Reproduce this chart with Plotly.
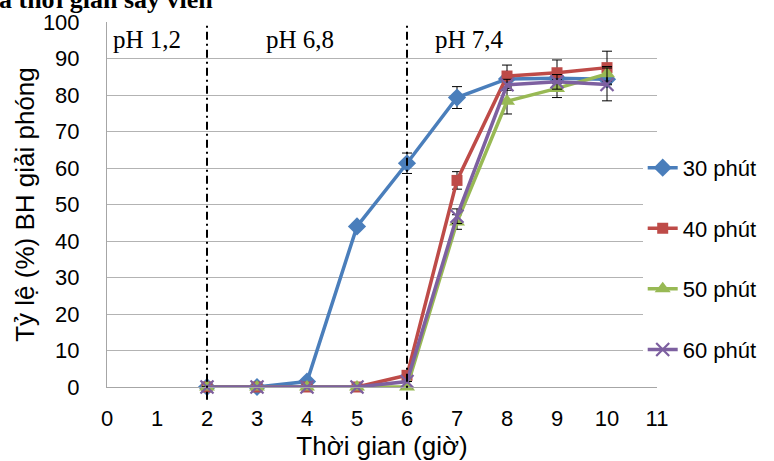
import plotly.graph_objects as go

hours = [2, 3, 4, 5, 6, 7, 8, 9, 10]
series_names = ["30 phút", "40 phút", "50 phút", "60 phút"]
v30 = [0, 0, 1.5, 44, 61.3, 79.3, 84.4, 84.6, 84.3]
v40 = [0, 0, 0, 0, 3.2, 56.6, 85.2, 86.1, 87.5]
v50 = [0, 0, 0, 0, 0, 45.2, 78.3, 81.8, 85.8]
v60 = [0, 0, 0, 0, 1.5, 46.8, 82.8, 83.6, 82.9]
e30 = [0, 0, 0, 0, 2.8, 3.0, 1.5, 1.5, 1.5]
e40 = [0, 0, 0, 0, 0, 2.4, 3.0, 3.5, 4.5]
e50 = [0, 0, 0, 0, 0, 2.0, 3.5, 2.5, 2.0]
e60 = [0, 0, 0, 0, 0, 2.0, 1.5, 2.0, 4.5]
phase_bounds = [2, 6]
phase_labels = ["pH 1,2", "pH 6,8", "pH 7,4"]
phase_label_x = [0.8, 3.85, 7.25]
x_ticks = list(range(0, 12))
y_ticks = list(range(0, 101, 10))

colors = ["#4A7EBB", "#BE4B48", "#98B954", "#7D60A0"]
symbols = ["diamond", "square", "triangle-up", "x-thin"]
sizes = [14, 11, 14, 13]
values = [v30, v40, v50, v60]
errors = [e30, e40, e50, e60]

fig = go.Figure()
for i, name in enumerate(series_names):
    marker = dict(symbol=symbols[i], size=sizes[i], color=colors[i])
    if symbols[i] == "x-thin":
        marker["line"] = dict(color=colors[i], width=2.2)
    fig.add_trace(go.Scatter(
        x=hours, y=values[i], name=name, mode="lines+markers",
        line=dict(color=colors[i], width=3.5),
        marker=marker, cliponaxis=False, legendgroup=name,
        error_y=dict(type="data", array=errors[i], color="black",
                     thickness=1, width=5),
    ))

for xb in phase_bounds:
    fig.add_shape(type="line", xref="x", yref="paper", x0=xb, x1=xb,
                  y0=-0.035, y1=1.0,
                  line=dict(color="black", width=2, dash="8px,4px,2px,4px"))

for lab, lx in zip(phase_labels, phase_label_x):
    fig.add_annotation(x=lx, y=95.1, xref="x", yref="y", text=lab,
                       showarrow=False,
                       font=dict(family="Liberation Serif", size=25, color="black"))

fig.add_annotation(x=-0.2, y=1.0165, xref="paper", yref="paper",
                   xanchor="left", yanchor="bottom", showarrow=False,
                   text="<b>a thời gian sấy viên</b>",
                   font=dict(family="Liberation Serif", size=26, color="black"))

fig.update_layout(
    width=774, height=461,
    margin=dict(l=107, r=113, t=22, b=74),
    paper_bgcolor="white", plot_bgcolor="white",
    font=dict(family="Arial, Liberation Sans", size=22, color="black"),
    showlegend=True,
    legend=dict(x=0.974, xanchor="left", y=0.658, yanchor="top",
                bgcolor="white", traceorder="grouped", tracegroupgap=29,
                font=dict(size=22)),
    xaxis=dict(range=[0, 11], tickvals=x_ticks, showgrid=False,
               showline=True, linecolor="#A6A6A6", linewidth=1,
               ticks="", ticklabelstandoff=12, zeroline=False,
               automargin=False, tickfont=dict(size=22),
               title=dict(text="Thời gian (giờ)", standoff=6)),
    yaxis=dict(range=[0, 100], tickvals=y_ticks, showgrid=True,
               gridcolor="#B3B3B3", gridwidth=1,
               showline=True, linecolor="#A6A6A6", linewidth=1,
               ticks="", ticklabelstandoff=22, zeroline=False,
               automargin=False, tickfont=dict(size=22),
               title=dict(text="Tỷ lệ (%) BH giải phóng", standoff=0)),
)

fig.write_html("out.html", config={"displayModeBar": False},
               post_script="document.body.style.margin='0';document.body.style.overflow='hidden';")
